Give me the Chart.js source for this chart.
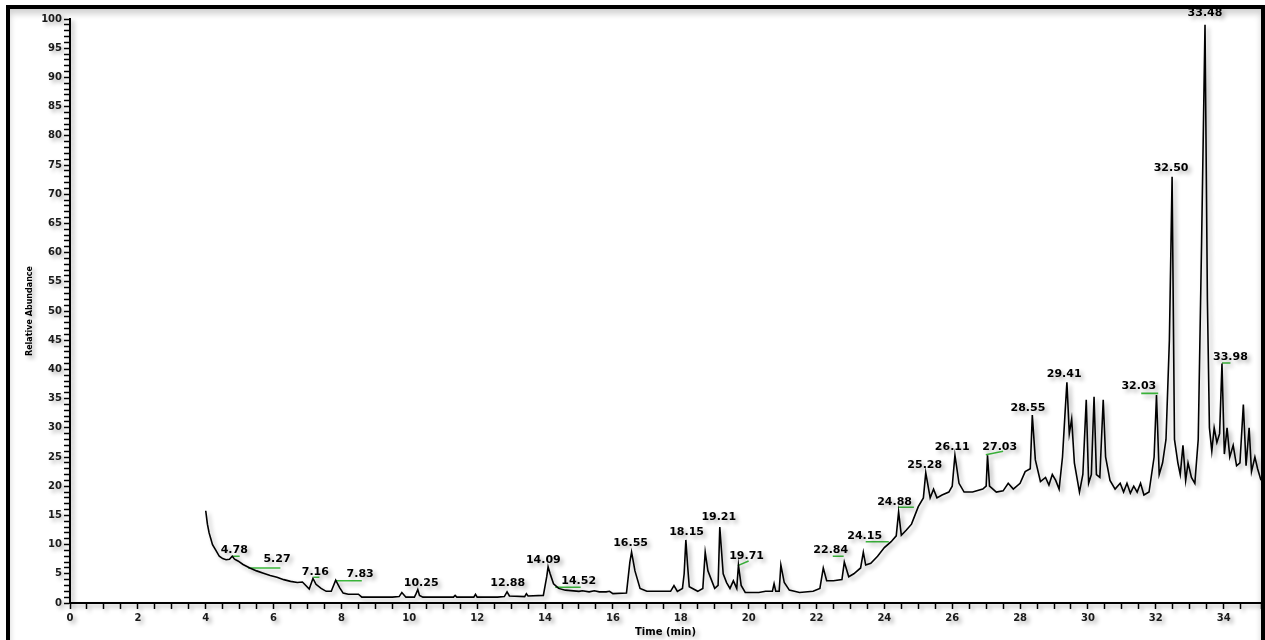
<!DOCTYPE html>
<html>
<head>
<meta charset="utf-8">
<script src="https://cdn.jsdelivr.net/npm/chart.js@4.4.1/dist/chart.umd.min.js"></script>
<style>
  html, body { margin: 0; padding: 0; background: #fff; overflow: hidden; }
  #frame {
    position: absolute; left: 6px; top: 5px; width: 1259px; height: 700px;
    box-sizing: border-box; border: 4px solid #000; border-bottom: none;
    box-shadow: inset 0 5px 6px rgba(0,0,0,0.18);
  }
  #wrap { position: absolute; left: 0; top: 0; width: 1265px; height: 640px; }
</style>
</head>
<body>
<div id="frame"></div>
<div id="wrap"><canvas id="chrom"></canvas></div>
<script>
// chromatogram trace: retention time (min) / relative abundance (%)
const times = [
  4.00, 4.05, 4.10, 4.15, 4.20, 4.30, 4.40, 4.50, 4.60, 4.70, 4.78, 4.85, 4.95, 5.10, 5.30,
  5.50, 5.70, 5.90, 6.10, 6.30, 6.50, 6.70, 6.85, 6.95, 7.05, 7.16, 7.25, 7.40, 7.55, 7.70,
  7.83, 7.95, 8.05, 8.20, 8.50, 8.60, 9.00, 9.50, 9.70, 9.78, 9.90, 10.15, 10.20, 10.25, 10.30,
  10.40, 11.00, 11.30, 11.35, 11.40, 11.90, 11.95, 12.00, 12.60, 12.80, 12.88, 12.95, 13.40, 13.45,
  13.50, 13.95, 14.05, 14.09, 14.15, 14.25, 14.40, 14.60, 15.00, 15.10, 15.30, 15.45, 15.60, 15.80,
  15.90, 16.00, 16.40, 16.50, 16.55, 16.65, 16.80, 17.00, 17.40, 17.70, 17.80, 17.90, 18.05, 18.10,
  18.15, 18.20, 18.25, 18.50, 18.65, 18.72, 18.80, 18.90, 19.00, 19.10, 19.15, 19.20, 19.25, 19.35,
  19.45, 19.55, 19.65, 19.70, 19.78, 19.90, 20.30, 20.50, 20.70, 20.75, 20.80, 20.90, 20.95, 21.05,
  21.20, 21.50, 21.90, 22.10, 22.20, 22.30, 22.50, 22.75, 22.82, 22.95, 23.10, 23.30, 23.38, 23.45,
  23.60, 23.80, 24.00, 24.20, 24.35, 24.42, 24.50, 24.65, 24.80, 24.90, 25.00, 25.15, 25.22, 25.35,
  25.45, 25.55, 25.70, 25.90, 26.00, 26.08, 26.20, 26.35, 26.60, 26.90, 27.00, 27.04, 27.10, 27.30,
  27.50, 27.65, 27.80, 28.00, 28.15, 28.30, 28.36, 28.45, 28.60, 28.75, 28.85, 28.95, 29.05, 29.15,
  29.25, 29.32, 29.38, 29.45, 29.52, 29.60, 29.75, 29.85, 29.95, 30.02, 30.10, 30.18, 30.25, 30.35,
  30.45, 30.52, 30.65, 30.80, 30.95, 31.05, 31.15, 31.25, 31.35, 31.45, 31.55, 31.65, 31.80, 31.95,
  32.02, 32.10, 32.20, 32.30, 32.40, 32.48, 32.55, 32.65, 32.72, 32.80, 32.88, 32.95, 33.05, 33.15,
  33.25, 33.35, 33.45, 33.52, 33.58, 33.65, 33.72, 33.80, 33.88, 33.95, 34.02, 34.10, 34.18, 34.28,
  34.38, 34.48, 34.58, 34.66, 34.75, 34.82, 34.92, 35.00, 35.10
];
const abundance = [
  15.8, 13.5, 12.0, 11.0, 10.0, 9.0, 8.0, 7.6, 7.4, 7.5, 8.0, 7.5, 7.2, 6.6, 6.0,
  5.5, 5.1, 4.7, 4.4, 4.0, 3.7, 3.5, 3.6, 3.0, 2.4, 4.2, 3.2, 2.5, 2.0, 2.0,
  3.9, 2.6, 1.7, 1.5, 1.5, 1.0, 1.0, 1.0, 1.1, 1.8, 1.0, 1.0, 1.6, 2.3, 1.3,
  1.0, 1.0, 1.0, 1.3, 1.0, 1.0, 1.5, 1.0, 1.0, 1.1, 1.9, 1.2, 1.1, 1.6,
  1.2, 1.3, 4.5, 6.2, 5.0, 3.3, 2.5, 2.2, 2.0, 2.1, 1.9, 2.1, 1.9, 1.9,
  2.0, 1.6, 1.7, 7.0, 8.7, 5.5, 2.5, 2.0, 2.0, 2.0, 3.0, 2.0, 2.5, 5.0,
  10.8, 6.5, 2.8, 2.0, 2.5, 8.7, 5.5, 4.0, 2.5, 3.0, 13.0, 9.0, 5.0, 3.5,
  2.5, 3.8, 2.5, 6.5, 3.0, 1.8, 1.8, 2.0, 2.0, 3.3, 2.0, 2.0, 6.5, 3.5,
  2.2, 1.8, 2.0, 2.5, 6.0, 3.8, 3.8, 4.0, 7.0, 4.5, 5.0, 6.0, 8.7, 6.5,
  6.8, 8.0, 9.5, 10.5, 11.5, 15.6, 11.6, 12.5, 13.5, 15.0, 16.5, 18.0, 22.3, 18.0,
  19.5, 18.0, 18.5, 19.0, 20.0, 25.3, 20.5, 19.0, 19.0, 19.5, 20.0, 25.3, 20.0, 19.0,
  19.2, 20.5, 19.5, 20.5, 22.5, 23.0, 32.2, 24.5, 20.8, 21.5, 20.2, 22.0, 21.0, 19.5,
  25.0, 32.0, 37.8, 29.0, 31.5, 24.0, 19.0, 22.0, 34.8, 20.5, 22.0, 35.3, 22.0, 21.5,
  34.8, 25.0, 21.0, 19.5, 20.5, 19.0, 20.5, 18.8, 20.0, 19.0, 20.5, 18.5, 19.0, 25.0,
  35.6, 22.0, 24.0, 28.0, 45.0, 73.0, 28.0, 24.0, 22.0, 27.0, 21.0, 24.0, 21.5, 20.5,
  28.0, 62.0, 99.0, 52.0, 30.0, 26.0, 30.0, 27.5, 29.0, 41.0, 25.5, 30.0, 25.0, 27.0,
  23.5, 24.0, 34.0, 23.5, 30.0, 22.5, 25.0, 23.0, 21.0
];

// peak annotations (text, where the label sits in time / abundance)
const peakLabels = ['4.78', '5.27', '7.16', '7.83', '10.25', '12.88', '14.09', '14.52', '16.55',
  '18.15', '19.21', '19.71', '22.84', '24.15', '24.88', '25.28', '26.11', '27.03', '28.55',
  '29.41', '32.03', '32.50', '33.48', '33.98'];
const peakLabelTime = [4.84, 6.1, 7.23, 8.55, 10.35, 12.9, 13.95, 14.99, 16.52,
  18.17, 19.12, 19.94, 22.42, 23.42, 24.3, 25.19, 26.0, 27.4, 28.23,
  29.3, 31.5, 32.45, 33.45, 34.2];
const peakLabelLevel = [9.1, 7.5, 5.3, 5.0, 3.4, 3.4, 7.4, 3.8, 10.3,
  12.2, 14.7, 8.0, 9.1, 11.5, 17.3, 23.6, 26.7, 26.7, 33.4,
  39.2, 37.2, 74.5, 101, 42.1];

// green integration baselines (null separates segments)
const greenTime = [4.78, 5.0, null, 5.25, 6.2, null, 7.17, 7.35, null, 7.82, 8.6, null,
  14.3, 15.05, null, 19.68, 20.0, null, 22.48, 22.8, null, 23.45, 24.13, null,
  24.4, 24.87, null, 26.99, 27.5, null, 31.57, 32.07, null, 33.95, 34.2];
const greenLevel = [8.0, 8.0, null, 6.0, 6.0, null, 4.4, 4.4, null, 3.8, 3.8, null,
  2.7, 2.7, null, 6.4, 7.2, null, 8.0, 8.0, null, 10.5, 10.5, null,
  16.4, 16.4, null, 25.4, 26.0, null, 35.9, 35.9, null, 41.1, 41.1];

const trace = times.map((t, i) => ({x: t, y: abundance[i]}));
const green = greenTime.map((t, i) => ({x: t, y: greenLevel[i]}));

const shadowPlugin = {
  id: 'shadow',
  beforeDraw(chart) {
    const ctx = chart.ctx;
    ctx.shadowColor = 'rgba(0,0,0,0.3)';
    ctx.shadowBlur = 4;
    ctx.shadowOffsetX = 3;
    ctx.shadowOffsetY = 3;
  },
  afterDraw(chart) {
    chart.ctx.shadowColor = 'rgba(0,0,0,0)';
  }
};

const peakLabelPlugin = {
  id: 'peakLabels',
  afterDatasetsDraw(chart) {
    const {ctx, scales: {x, y}} = chart;
    ctx.save();
    ctx.font = 'bold 11px "DejaVu Sans"';
    ctx.fillStyle = '#000';
    ctx.textAlign = 'center';
    ctx.textBaseline = 'middle';
    peakLabels.forEach((txt, i) => {
      ctx.fillText(txt, x.getPixelForValue(peakLabelTime[i]), y.getPixelForValue(peakLabelLevel[i]));
    });
    ctx.restore();
  }
};

new Chart(document.getElementById('chrom'), {
  type: 'line',
  data: {
    datasets: [
      {
        data: trace,
        borderColor: '#000',
        borderWidth: 1.6,
        pointRadius: 0,
        tension: 0
      },
      {
        data: green,
        borderColor: '#3cb83c',
        borderWidth: 1.6,
        pointRadius: 0,
        spanGaps: false
      }
    ]
  },
  options: {
    responsive: true,
    maintainAspectRatio: false,
    animation: false,
    layout: { padding: { top: 19, right: 4, left: 0, bottom: 0 } },
    plugins: {
      legend: { display: false },
      tooltip: { enabled: false }
    },
    scales: {
      x: {
        type: 'linear',
        min: 0,
        max: 35.1,
        afterFit: s => { s.height = 37; },
        border: { color: '#000', width: 2 },
        grid: { drawOnChartArea: false, tickLength: 6, color: '#000', tickWidth: 1.5 },
        ticks: {
          stepSize: 0.5,
          autoSkip: false,
          maxRotation: 0,
          padding: 3,
          color: '#1a1a1a',
          font: { family: 'DejaVu Sans', size: 10, weight: 'bold' },
          callback: v => (Number.isInteger(v) && v % 2 === 0) ? v : ''
        },
        title: {
          display: true,
          text: 'Time (min)',
          color: '#000',
          font: { family: 'DejaVu Sans', size: 10, weight: 'bold' },
          padding: { top: 0, bottom: 2 }
        }
      },
      y: {
        min: 0,
        max: 100,
        afterFit: s => { s.width = 70; },
        border: { color: '#000', width: 2 },
        grid: { drawOnChartArea: false, tickLength: 6, color: '#000', tickWidth: 1.5 },
        ticks: {
          stepSize: 1,
          autoSkip: false,
          padding: 2,
          color: '#1a1a1a',
          font: { family: 'DejaVu Sans', size: 10, weight: 'bold' },
          callback: v => v % 5 === 0 ? v : ''
        },
        title: {
          display: true,
          text: 'Relative Abundance',
          color: '#000',
          font: { family: 'DejaVu Sans', size: 8, weight: 'bold' },
          padding: { top: 25, bottom: 0 }
        }
      }
    }
  },
  plugins: [shadowPlugin, peakLabelPlugin]
});
</script>
</body>
</html>
